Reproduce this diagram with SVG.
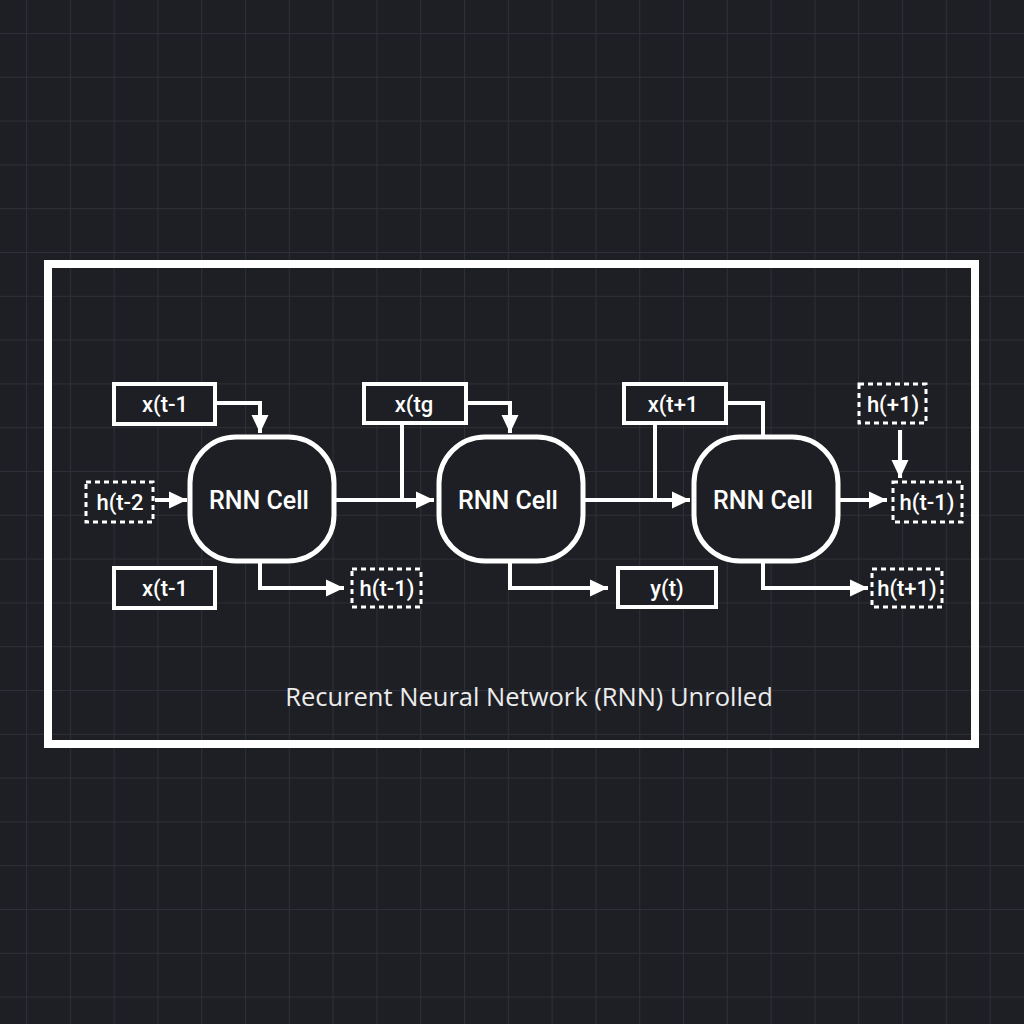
<svg xmlns="http://www.w3.org/2000/svg" width="1024" height="1024" viewBox="0 0 1024 1024">
<defs>
<pattern id="grid" patternUnits="userSpaceOnUse" x="26" y="33" width="43.8" height="43.8">
<path d="M0 0 H43.8 M0 0 V43.8" fill="none" stroke="#2e3037" stroke-width="2"/>
</pattern>
<marker id="arr" markerUnits="userSpaceOnUse" markerWidth="20" markerHeight="20" viewBox="0 0 20 20" refX="19" refY="10" orient="auto">
<path d="M1 1.5 L19 10 L1 18.5 Z" fill="#ffffff"/>
</marker>
<style>
.box{fill:#1e1f24;stroke:#ffffff;stroke-width:4}
.dbox{fill:#1e1f24;stroke:#ffffff;stroke-width:3;stroke-dasharray:5 4}
.cell{fill:#1e1f24;stroke:#ffffff;stroke-width:5}
.lbl{font-family:Roboto,"Liberation Sans",sans-serif;font-size:22px;font-weight:500;fill:#ffffff;text-anchor:middle;dominant-baseline:central}
.cl{font-family:Roboto,"Liberation Sans",sans-serif;font-size:25px;font-weight:500;fill:#ffffff;text-anchor:middle;dominant-baseline:central}
.ln{fill:none;stroke:#ffffff;stroke-width:4}
.title{font-family:"Open Sans","Noto Sans",sans-serif;font-size:25.5px;fill:#ececec;text-anchor:middle}
</style>
</defs>
<rect width="1024" height="1024" fill="#1e1f24"/>
<rect width="1024" height="1024" fill="url(#grid)"/>
<rect x="48" y="264" width="927" height="480" fill="none" stroke="#ffffff" stroke-width="8"/>

<g id="connectors">
<path class="ln" d="M215 403 H260 V433" marker-end="url(#arr)"/>
<path class="ln" d="M155 500 H187" marker-end="url(#arr)"/>
<path class="ln" d="M260 563 V588 H344" marker-end="url(#arr)"/>
<path class="ln" d="M335 500 H434" marker-end="url(#arr)"/>
<path class="ln" d="M402 424 V500"/>
<path class="ln" d="M467 403 H510 V433" marker-end="url(#arr)"/>
<path class="ln" d="M510 563 V588 H608" marker-end="url(#arr)"/>
<path class="ln" d="M585 500 H690" marker-end="url(#arr)"/>
<path class="ln" d="M655 424 V500"/>
<path class="ln" d="M727 403 H763 V435"/>
<path class="ln" d="M840 500 H887" marker-end="url(#arr)"/>
<path class="ln" d="M900 430 V478" marker-end="url(#arr)"/>
<path class="ln" d="M763 563 V588 H868" marker-end="url(#arr)"/>
</g>

<g id="x_tm1_top"><rect class="box" x="114" y="384" width="101" height="40"/><text class="lbl" x="165" y="404">x(t-1</text></g>
<g id="h_tm2"><rect class="dbox" x="86" y="482" width="67" height="40"/><text class="lbl" x="120" y="502">h(t-2</text></g>
<g id="x_tm1_bot"><rect class="box" x="114" y="568" width="101" height="40"/><text class="lbl" x="165" y="588">x(t-1</text></g>
<g id="cell1"><rect class="cell" x="190" y="437" width="144" height="124" rx="46"/><text class="cl" x="259" y="500">RNN Cell</text></g>
<g id="h_tm1_a"><rect class="dbox" x="352" y="569" width="69" height="38"/><text class="lbl" x="387" y="588">h(t-1)</text></g>

<g id="x_t"><rect class="box" x="364" y="384" width="102" height="39"/><text class="lbl" x="414" y="404">x(tg</text></g>
<g id="cell2"><rect class="cell" x="439" y="437" width="144" height="124" rx="46"/><text class="cl" x="508" y="500">RNN Cell</text></g>
<g id="y_t"><rect class="box" x="618" y="568" width="98" height="39"/><text class="lbl" x="667" y="588">y(t)</text></g>

<g id="x_tp1"><rect class="box" x="624" y="384" width="102" height="39"/><text class="lbl" x="673" y="404">x(t+1</text></g>
<g id="cell3"><rect class="cell" x="694" y="437" width="144" height="124" rx="46"/><text class="cl" x="763" y="500">RNN Cell</text></g>
<g id="h_p1"><rect class="dbox" x="859" y="384" width="67" height="39"/><text class="lbl" x="893" y="404">h(+1)</text></g>
<g id="h_tm1_b"><rect class="dbox" x="893" y="482" width="69" height="40"/><text class="lbl" x="927" y="502">h(t-1)</text></g>
<g id="h_tp1"><rect class="dbox" x="872" y="569" width="70" height="38"/><text class="lbl" x="907" y="588">h(t+1)</text></g>

<g id="title"><text class="title" x="529" y="706">Recurent Neural Network (RNN) Unrolled</text></g>
</svg>
